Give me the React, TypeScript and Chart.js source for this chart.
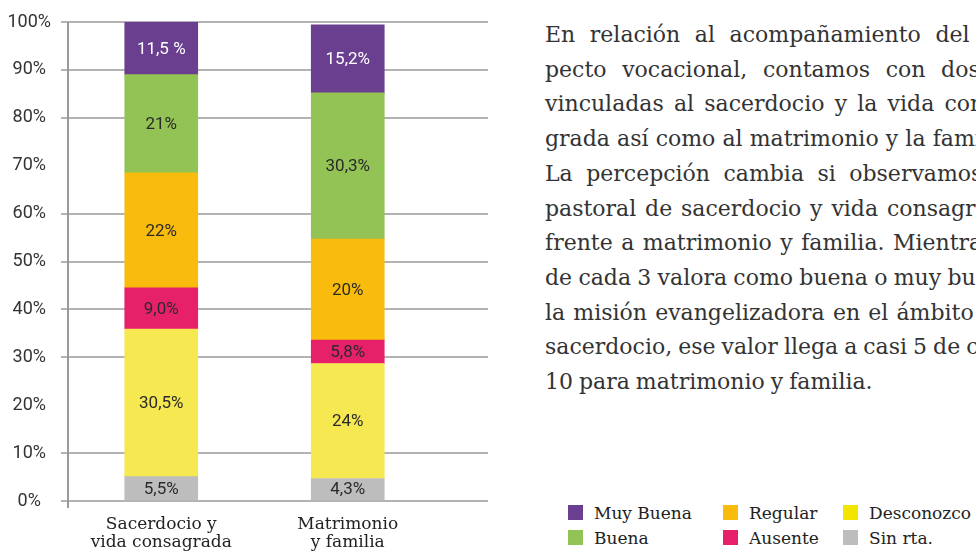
import React, { useEffect, useRef } from 'react';
import { Chart, registerables } from 'chart.js';

Chart.register(...registerables);

// ---------- data ----------
const CATEGORIES: string[][] = [['Sacerdocio y', 'vida consagrada'], ['Matrimonio', 'y familia']];

const SERIES_NAMES = ['Sin rta.', 'Desconozco', 'Ausente', 'Regular', 'Buena', 'Muy Buena'];
const SIN_RTA = [5.1, 4.7];
const DESCONOZCO = [30.8, 24.0];
const AUSENTE = [8.6, 4.9];
const REGULAR = [24.0, 21.1];
const BUENA = [20.5, 30.5];
const MUY_BUENA = [11.0, 14.2];

const LABELS_SIN_RTA = ['5,5%', '4,3%'];
const LABELS_DESCONOZCO = ['30,5%', '24%'];
const LABELS_AUSENTE = ['9,0%', '5,8%'];
const LABELS_REGULAR = ['22%', '20%'];
const LABELS_BUENA = ['21%', '30,3%'];
const LABELS_MUY_BUENA = ['11,5 %', '15,2%'];

const Y_MIN = 0;
const Y_MAX = 100;
const Y_STEP = 10;
const Y_HIDDEN_GRID = [20, 70];

const LEGEND_ORDER = ['Muy Buena', 'Buena', 'Regular', 'Ausente', 'Desconozco', 'Sin rta.'];

const PARAGRAPH_LINES = [
  'En relación al acompañamiento del as-',
  'pecto vocacional, contamos con dos á-',
  'vinculadas al sacerdocio y la vida consa-',
  'grada así como al matrimonio y la familia.',
  'La percepción cambia si observamos la',
  'pastoral de sacerdocio y vida consagrada',
  'frente a matrimonio y familia. Mientras 1',
  'de cada 3 valora como buena o muy buena',
  'la misión evangelizadora en el ámbito del',
  'sacerdocio, ese valor llega a casi 5 de cada',
  '10 para matrimonio y familia.',
];

// ---------- styles ----------
const COLORS: Record<string, string> = {
  'Sin rta.': '#bdbdbd',
  Desconozco: '#f6e850',
  Ausente: '#e72169',
  Regular: '#f9bc0c',
  Buena: '#93c255',
  'Muy Buena': '#6b3f8f',
};
const LEGEND_COLORS: Record<string, string> = {
  ...COLORS,
  Desconozco: '#f2e500',
};
const SERIES_VALUES = [SIN_RTA, DESCONOZCO, AUSENTE, REGULAR, BUENA, MUY_BUENA];
const SERIES_LABELS = [LABELS_SIN_RTA, LABELS_DESCONOZCO, LABELS_AUSENTE, LABELS_REGULAR, LABELS_BUENA, LABELS_MUY_BUENA];

const SERIF = '"DejaVu Serif", serif';
const GRID_COLOR = '#b3b3b3';
const gridColor = (ctx: any) => (Y_HIDDEN_GRID.includes(ctx.tick?.value) ? 'rgba(0,0,0,0)' : GRID_COLOR);

const segLabelPlugin = {
  id: 'segLabels',
  afterDatasetsDraw(chart: any) {
    const ctx = chart.ctx;
    chart.data.datasets.forEach((ds: any, di: number) => {
      const meta = chart.getDatasetMeta(di);
      meta.data.forEach((el: any, i: number) => {
        const p = el.getProps(['x', 'y', 'base'], true);
        ctx.save();
        ctx.font = '17px Roboto';
        ctx.fillStyle = ds.labelColor;
        ctx.textAlign = 'center';
        ctx.textBaseline = 'middle';
        ctx.fillText(ds.valueLabels[i], p.x, (p.y + p.base) / 2 + 1);
        ctx.restore();
      });
    });
  },
};

const axisLinePlugin = {
  id: 'axisLine',
  afterDraw(chart: any) {
    const { ctx, chartArea } = chart;
    ctx.save();
    ctx.strokeStyle = '#9a9a9a';
    ctx.lineWidth = 2;
    ctx.beginPath();
    ctx.moveTo(chartArea.left, chartArea.top);
    ctx.lineTo(chartArea.left, chartArea.bottom + 7);
    ctx.stroke();
    ctx.restore();
  },
};

function StackedChart() {
  const ref = useRef<HTMLCanvasElement | null>(null);
  useEffect(() => {
    if (!ref.current) return;
    const datasets = SERIES_NAMES.map((name, si) => ({
      label: name,
      data: SERIES_VALUES[si],
      backgroundColor: COLORS[name],
      borderWidth: 0,
      barThickness: 73,
      valueLabels: SERIES_LABELS[si],
      labelColor: name === 'Muy Buena' ? '#ffffff' : '#2a2a2a',
    }));
    const chart = new Chart(ref.current, {
      type: 'bar',
      data: { labels: CATEGORIES, datasets } as any,
      plugins: [segLabelPlugin, axisLinePlugin],
      options: {
        animation: false,
        responsive: false,
        maintainAspectRatio: false,
        layout: { padding: { top: 22, left: 8, right: 12, bottom: 0 } },
        plugins: { legend: { display: false }, tooltip: { enabled: false } },
        scales: {
          x: {
            stacked: true,
            afterFit: (scale: any) => {
              scale.height = 53;
            },
            ticks: {
              font: { family: 'DejaVu Serif', size: 17, lineHeight: 1.08 },
              color: '#222',
              padding: 14,
              maxRotation: 0,
              autoSkip: false,
            },
            grid: { display: false, drawTicks: false },
            border: { display: false },
          },
          y: {
            type: 'linear',
            stacked: true,
            min: Y_MIN,
            max: Y_MAX,
            afterFit: (scale: any) => {
              scale.width = 60;
            },
            ticks: {
              stepSize: Y_STEP,
              callback: (v: any) => v + '%',
              font: { family: 'Roboto', size: 18 },
              color: '#333',
              crossAlign: 'center',
              padding: 10,
            },
            grid: {
              color: gridColor,
              lineWidth: 2,
              tickLength: 7,
              drawTicks: true,
            },
            border: { display: false },
          },
          yExt: {
            type: 'linear',
            position: 'right',
            min: Y_MIN,
            max: Y_MAX,
            ticks: { display: false, stepSize: Y_STEP },
            grid: {
              color: gridColor,
              lineWidth: 2,
              tickLength: 47,
              drawTicks: true,
              drawOnChartArea: false,
            },
            border: { display: false },
          },
        },
      } as any,
    });
    return () => chart.destroy();
  }, []);
  return <canvas ref={ref} width={500} height={554} style={{ display: 'block' }} />;
}

export default function App() {
  return (
    <div
      style={{
        position: 'fixed',
        left: 0,
        top: 0,
        width: 976,
        height: 554,
        overflow: 'hidden',
        background: '#ffffff',
      }}
    >
      <div style={{ position: 'absolute', left: 0, top: 0 }}>
        <StackedChart />
      </div>
      <div
        style={{
          position: 'absolute',
          left: 545,
          top: 18,
          width: 471,
          fontFamily: SERIF,
          fontSize: 22,
          lineHeight: '34.7px',
          color: '#333',
        }}
      >
        {PARAGRAPH_LINES.map((line, i) => (
          <div
            key={i}
            style={{
              display: 'flex',
              justifyContent: i === PARAGRAPH_LINES.length - 1 ? 'flex-start' : 'space-between',
              columnGap: 6,
              whiteSpace: 'nowrap',
            }}
          >
            {line.split(' ').map((w, j) => (
              <span key={j}>{w}</span>
            ))}
          </div>
        ))}
      </div>
      <div
        style={{
          position: 'absolute',
          left: 568,
          top: 500,
          display: 'grid',
          gridAutoFlow: 'column',
          gridTemplateRows: '25px 25px',
          gridTemplateColumns: '155px 120px auto',
          fontFamily: SERIF,
          fontSize: 17,
          color: '#222',
        }}
      >
        {LEGEND_ORDER.map((name) => (
          <div key={name} style={{ display: 'flex', alignItems: 'center', height: 25 }}>
            <span
              style={{
                display: 'inline-block',
                width: 15,
                height: 15,
                background: LEGEND_COLORS[name],
                marginRight: 11,
              }}
            />
            <span>{name}</span>
          </div>
        ))}
      </div>
    </div>
  );
}
